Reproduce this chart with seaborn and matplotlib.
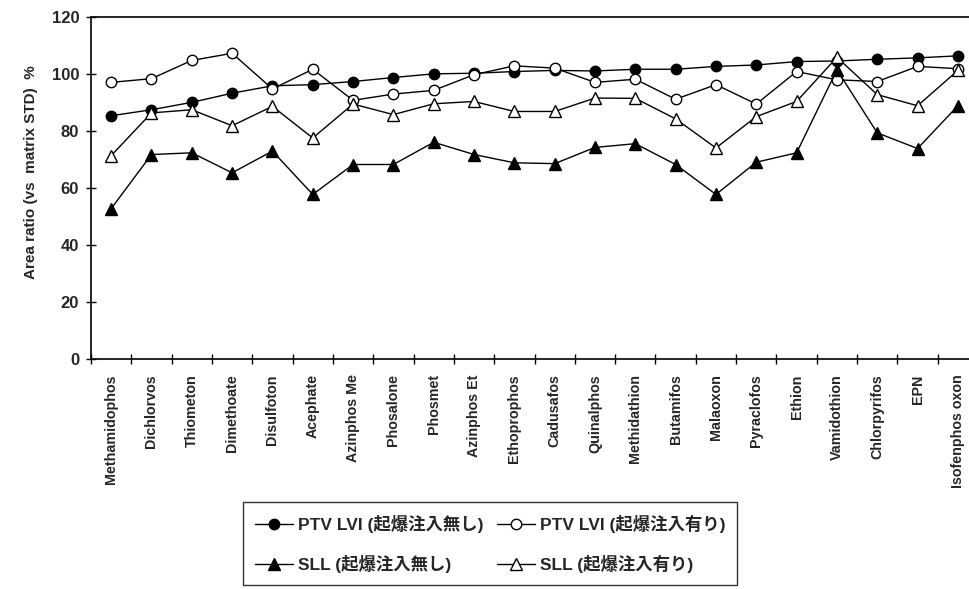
import numpy as np
import pandas as pd
import matplotlib
matplotlib.use("Agg")
import matplotlib.pyplot as plt
import seaborn as sns

# --------------------------------------------------
# Area ratio (vs matrix STD) per pesticide
# --------------------------------------------------

compounds = [
    "Methamidophos", "Dichlorvos", "Thiometon", "Dimethoate", "Disulfoton",
    "Acephate", "Azinphos Me", "Phosalone", "Phosmet", "Azinphos Et",
    "Ethoprophos", "Cadusafos", "Quinalphos", "Methidathion", "Butamifos",
    "Malaoxon", "Pyraclofos", "Ethion", "Vamidothion", "Chlorpyrifos",
    "EPN", "Isofenphos oxon",
]

ptv_without = [85.3, 87.4, 90.0, 93.2, 95.8, 96.2, 97.3, 98.7, 100.0, 100.2,
               100.8, 101.2, 101.0, 101.6, 101.6, 102.6, 103.1, 104.3, 104.5, 105.1,
               105.6, 106.3]
ptv_with = [97.0, 98.3, 104.7, 107.2, 94.7, 101.6, 90.7, 92.9, 94.2, 99.7,
            102.8, 102.0, 97.0, 98.1, 91.1, 96.2, 89.4, 100.8, 97.9, 97.3,
            102.6, 101.8]
sll_without = [52.7, 71.7, 72.3, 65.3, 72.9, 57.7, 68.2, 68.2, 76.0, 71.7,
               68.8, 68.5, 74.2, 75.5, 68.2, 57.7, 69.0, 72.3, 101.4, 79.3,
               73.8, 88.8]
sll_with = [71.3, 86.3, 87.4, 81.8, 88.6, 77.5, 89.4, 85.7, 89.5, 90.3,
            86.8, 86.8, 91.5, 91.4, 84.2, 74.0, 85.0, 90.3, 105.8, 92.7,
            88.8, 101.2]

labels = [
    "PTV LVI (起爆注入無し)",
    "PTV LVI (起爆注入有り)",
    "SLL (起爆注入無し)",
    "SLL (起爆注入有り)",
]

df = pd.DataFrame({
    "compound": compounds * 4,
    "ratio": ptv_without + ptv_with + sll_without + sll_with,
    "series": np.repeat(labels, len(compounds)),
})

sns.set_theme(style="white")
plt.rcParams["font.family"] = ["Liberation Sans", "Noto Sans CJK JP"]
plt.rcParams["font.weight"] = "bold"

fig = plt.figure(figsize=(9.7, 5.89), dpi=100)
ax = fig.add_axes([0.0938, 0.3905, 0.9145, 0.581])

styles = {
    labels[0]: dict(marker="o", markerfacecolor="black", markersize=7.5),
    labels[1]: dict(marker="o", markerfacecolor="white", markersize=7.5),
    labels[2]: dict(marker="^", markerfacecolor="black", markersize=8.5),
    labels[3]: dict(marker="^", markerfacecolor="white", markersize=8.5),
}

for name in labels:
    sns.lineplot(
        data=df[df["series"] == name],
        x="compound",
        y="ratio",
        sort=False,
        color="black",
        linewidth=1.0,
        markeredgecolor="black",
        markeredgewidth=1.0,
        label=name,
        ax=ax,
        **styles[name],
    )

ax.set_xlim(-0.5, len(compounds) - 0.5)
ax.set_ylim(0, 120)
ax.set_yticks(range(0, 121, 20))
ax.set_xticks(range(len(compounds)))
ax.set_xticklabels(compounds, rotation=90, fontsize=10.3, fontweight="bold")
ax.set_xticks(np.arange(-0.5, len(compounds), 1.0), minor=True)
ax.tick_params(axis="x", which="major", length=0, pad=11)
ax.tick_params(axis="x", which="minor", direction="inout", length=7,
               width=1.0, color="black", bottom=True)
ax.tick_params(axis="y", direction="inout", length=7, width=1.0,
               color="black", left=True, pad=5, labelsize=12)
for t in ax.get_yticklabels():
    t.set_fontweight("bold")

ax.set_xlabel("")
ax.set_ylabel("Area ratio (vs  matrix STD)  %", fontsize=11, fontweight="bold")
ax.yaxis.set_label_coords(-0.06, 0.546)

for side in ["left", "bottom", "top"]:
    ax.spines[side].set_color("black")
    ax.spines[side].set_linewidth(1.2)
ax.spines["right"].set_visible(False)

# legend filled row by row, as in the original
handles, names = ax.get_legend_handles_labels()
order = [0, 2, 1, 3]
leg = ax.legend(
    [handles[i] for i in order],
    [names[i] for i in order],
    loc="upper left",
    bbox_to_anchor=(0.2505, 0.147),
    bbox_transform=fig.transFigure,
    ncol=2,
    fontsize=12.5,
    frameon=True,
    fancybox=False,
    edgecolor="black",
    handlelength=2.2,
    handletextpad=0.25,
    columnspacing=0.8,
    labelspacing=1.3,
    borderpad=0.7,
    borderaxespad=0,
)
leg.get_frame().set_linewidth(1.0)
for t in leg.get_texts():
    t.set_fontweight("bold")

fig.savefig("out.png", dpi=100)
